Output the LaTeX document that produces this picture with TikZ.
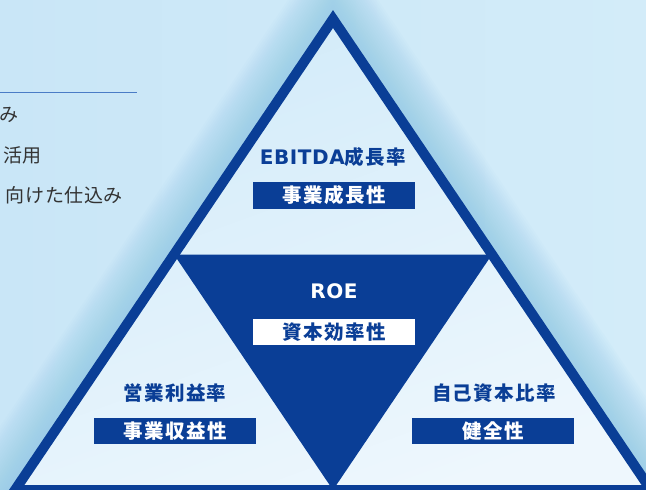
\documentclass[tikz,border=0pt]{standalone}
\usepackage{fontspec}
\setmainfont{Noto Sans CJK JP}
\newfontfamily\jp{Noto Sans CJK JP}
\newfontfamily\lat{DejaVu Sans}
\definecolor{navy}{HTML}{0A3E96}
\definecolor{bgA}{HTML}{C9E6F7}
\definecolor{bgB}{HTML}{D3ECF9}
\definecolor{glow}{HTML}{8CC8E8}
\definecolor{inA}{HTML}{D2EBF9}
\definecolor{inB}{HTML}{EEF7FD}
\definecolor{rule}{HTML}{4A7CC6}
\definecolor{gtext}{HTML}{333333}
\tikzset{
  title/.style={font=\jp\bfseries\fontsize{19.5}{22}\selectfont\addfontfeature{LetterSpace=7}, text=navy, inner sep=0pt},
  roe/.style={font=\lat\bfseries\fontsize{20}{22}\selectfont\addfontfeature{LetterSpace=3}, text=white, inner sep=0pt},
  darkbox/.style={fill=navy, text=white, minimum width=162pt, minimum height=26.5pt, inner sep=0pt,
    font=\jp\bfseries\fontsize{19.5}{22}\selectfont\addfontfeature{LetterSpace=8}},
  whitebox/.style={darkbox, fill=white, text=navy},
  side/.style={font=\jp\fontsize{19}{22}\selectfont\addfontfeature{LetterSpace=3}, text=gtext, inner sep=0pt, anchor=east}
}
\begin{document}
\begin{tikzpicture}[x=1pt,y=-1pt]
\useasboundingbox (0,0) rectangle (646,490);
\clip (0,0) rectangle (646,490);
\shade[left color=bgA, right color=bgB] (0,0) rectangle (646,490);
\coordinate (A) at (333,19);
\coordinate (L) at (15,490);
\coordinate (R) at (651,490);
\coordinate (mL) at (174,254.5);
\coordinate (mR) at (492,254.5);
\coordinate (mB) at (333,490);
% glow
\foreach \w in {96,92,...,14}
  \draw[glow, line width=\w pt, opacity=0.045, line join=miter] (A)--(L)--(R)--cycle;
% interior
\shade[top color=inA, bottom color=inB, shading angle=20] (A)--(L)--(R)--cycle;
% inner inverted triangle
\fill[navy] (mL)--(mR)--(mB)--cycle;
% outer outline
\draw[navy, line width=10pt, line join=miter] (A)--(L)--(R)--cycle;
% left side text
\coordinate (r1) at (0,92.5);
\coordinate (r2) at (137,92.5);
\draw[rule, line width=1.3pt] (r1)--(r2);
\node[side] (s1) at (19,115) {み};
\node[side] (s2) at (42,155) {活用};
\node[side] (s3) at (123,195) {向けた仕込み};
% labels
\node[title] (t1) at (333,157.5) {{\lat\bfseries\fontsize{20}{22}\selectfont\addfontfeature{LetterSpace=3}EBITDA}成長率};
\node[darkbox] (b1) at (334,195.5) {事業成長性};
\node[roe] (t2) at (334,291) {ROE};
\node[whitebox] (b2) at (334,332) {資本効率性};
\node[title] (t3) at (175,393) {営業利益率};
\node[darkbox] (b3) at (175,431) {事業収益性};
\node[title] (t4) at (494,393) {自己資本比率};
\node[darkbox] (b4) at (493,431) {健全性};
\end{tikzpicture}
\end{document}
